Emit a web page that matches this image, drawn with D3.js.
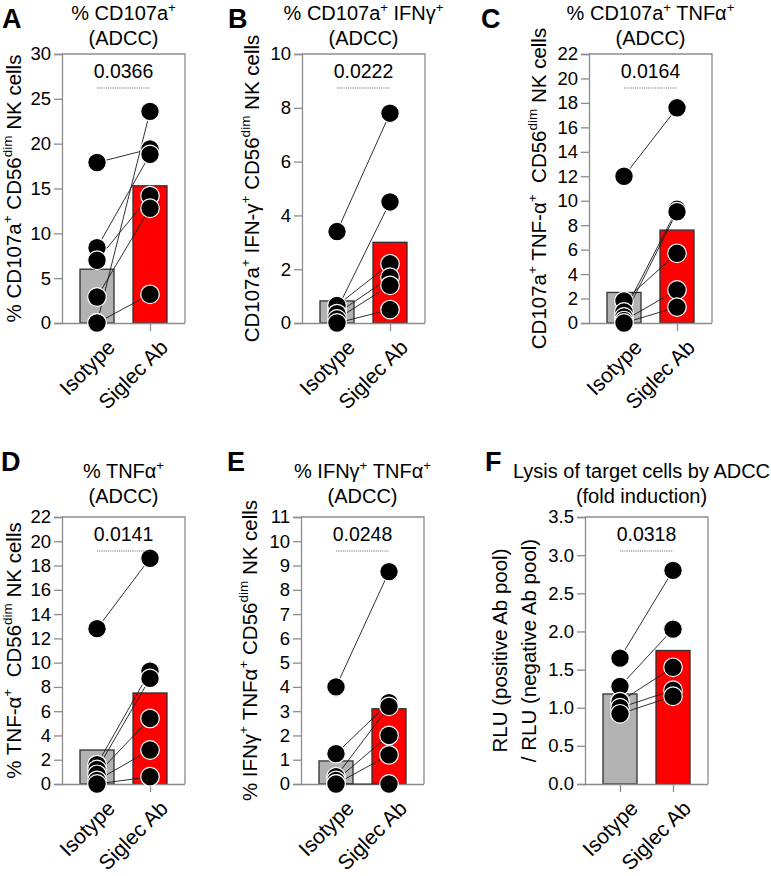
<!DOCTYPE html>
<html><head><meta charset="utf-8">
<script src="https://cdn.jsdelivr.net/npm/d3@7"></script>
<style>
body{margin:0;background:#fff;}
text{font-family:"Liberation Sans",Arial,sans-serif;fill:#000;}
</style></head>
<body>
<script>
// ---------- DATA ----------
const categories = ["Isotype", "Siglec Ab"];
const panelLetters = ["A", "B", "C", "D", "E", "F"];
const pValues = ["0.0366", "0.0222", "0.0164", "0.0141", "0.0248", "0.0318"];

const isotypeA = [17.9, 8.4, 7.0, 2.9, 0.0, 0.0];
const siglecA  = [19.4, 18.8, 14.2, 12.8, 23.6, 3.2];
const barsA    = [6.0, 15.3];

const isotypeB = [3.4, 0.5, 0.65, 0.35, 0.15, 0.0];
const siglecB  = [7.8, 4.5, 2.2, 1.7, 1.4, 0.5];
const barsB    = [0.82, 3.0];

const isotypeC = [12.0, 1.8, 0.9, 0.5, 0.2, 0.0];
const siglecC  = [17.6, 5.7, 9.3, 9.1, 2.7, 1.3];
const barsC    = [2.5, 7.6];

const isotypeD = [12.8, 1.6, 1.2, 0.8, 0.3, 0.0];
const siglecD  = [18.6, 9.3, 8.7, 5.4, 2.8, 0.6];
const barsD    = [2.8, 7.5];

const isotypeE = [4.0, 1.25, 0.3, 0.15, 0.0, 0.0];
const siglecE  = [8.75, 3.35, 3.2, 2.0, 1.2, 0.0];
const barsE    = [0.95, 3.1];

const isotypeF = [1.65, 1.28, 1.08, 1.0, 0.92];
const siglecF  = [2.8, 2.03, 1.53, 1.23, 1.15];
const barsF    = [1.18, 1.75];

const yTicksA = [0, 5, 10, 15, 20, 25, 30];
const yTicksB = [0, 2, 4, 6, 8, 10];
const yTicksC = [0, 2, 4, 6, 8, 10, 12, 14, 16, 18, 20, 22];
const yTicksD = [0, 2, 4, 6, 8, 10, 12, 14, 16, 18, 20, 22];
const yTicksE = [0, 1, 2, 3, 4, 5, 6, 7, 8, 9, 10, 11];
const yTicksF = [0, 0.5, 1.0, 1.5, 2.0, 2.5, 3.0, 3.5];

// rich text: [text, superscript?]
const titlesA = [[["% CD107a",0],["+",1]], [["(ADCC)",0]]];
const titlesB = [[["% CD107a",0],["+",1],[" IFNγ",0],["+",1]], [["(ADCC)",0]]];
const titlesC = [[["% CD107a",0],["+",1],[" TNFα",0],["+",1]], [["(ADCC)",0]]];
const titlesD = [[["% TNFα",0],["+",1]], [["(ADCC)",0]]];
const titlesE = [[["% IFNγ",0],["+",1],[" TNFα",0],["+",1]], [["(ADCC)",0]]];
const titlesF = [[["Lysis of target cells by ADCC",0]], [["(fold induction)",0]]];

const yLabelA = [[["% CD107a",0],["+",1],[" CD56",0],["dim",1],[" NK cells",0]]];
const yLabelB = [[["CD107a",0],["+",1],[" IFN-γ",0],["+",1],[" CD56",0],["dim",1],[" NK cells",0]]];
const yLabelC = [[["CD107a",0],["+",1],[" TNF-α",0],["+",1],["\u00a0 CD56",0],["dim",1],[" NK cells",0]]];
const yLabelD = [[["% TNF-α",0],["+",1],["\u00a0 CD56",0],["dim",1],[" NK cells",0]]];
const yLabelE = [[["% IFNγ",0],["+",1],[" TNFα",0],["+",1],[" CD56",0],["dim",1],[" NK cells",0]]];
const yLabelF = [[["RLU (positive Ab pool)",0]], [["/ RLU (negative Ab pool)",0]]];

// ---------- LAYOUT ----------
const W = 771, H = 876;
const svg = d3.select("body").append("svg").attr("width", W).attr("height", H);

const panels = [
  {iso: isotypeA, sig: siglecA, bars: barsA, ticks: yTicksA, max: 30, titles: titlesA, ylab: yLabelA, fmt: d3.format("d"),
   x0: 62, top: 54, bottom: 323, letter: [2, 28], titleY: 20, titleDx: 0, ylabX: [21]},
  {iso: isotypeB, sig: siglecB, bars: barsB, ticks: yTicksB, max: 10, titles: titlesB, ylab: yLabelB, fmt: d3.format("d"),
   x0: 302, top: 54, bottom: 323, letter: [228, 28], titleY: 20, titleDx: 0, ylabX: [259]},
  {iso: isotypeC, sig: siglecC, bars: barsC, ticks: yTicksC, max: 22, titles: titlesC, ylab: yLabelC, fmt: d3.format("d"),
   x0: 589, top: 54, bottom: 323, letter: [481, 28], titleY: 20, titleDx: 0, ylabX: [546]},
  {iso: isotypeD, sig: siglecD, bars: barsD, ticks: yTicksD, max: 22, titles: titlesD, ylab: yLabelD, fmt: d3.format("d"),
   x0: 62, top: 517, bottom: 784, letter: [1, 471], titleY: 478, titleDx: 0, ylabX: [21]},
  {iso: isotypeE, sig: siglecE, bars: barsE, ticks: yTicksE, max: 11, titles: titlesE, ylab: yLabelE, fmt: d3.format("d"),
   x0: 301, top: 517, bottom: 784, letter: [227, 471], titleY: 478, titleDx: 0, ylabX: [257]},
  {iso: isotypeF, sig: siglecF, bars: barsF, ticks: yTicksF, max: 3.5, titles: titlesF, ylab: yLabelF, fmt: d3.format(".1f"),
   x0: 585, top: 517, bottom: 784, letter: [485, 471], titleY: 478, titleDx: -5, ylabX: [507, 536]},
];

const PW = 123, BARW = 34, R = 9.3;
const GRID = "#8c8c8c";
const FS_TITLE = 20, FS_TICK = 18.5, FS_YLAB = 20.5, FS_XLAB = 21, FS_P = 19.5;

function rich(sel, parts, fs) {
  parts.forEach((p, i) => {
    const sup = p[1] === 1;
    const prevSup = i > 0 && parts[i-1][1] === 1;
    const t = sel.append("tspan").text(p[0]).attr("font-size", sup ? fs * 0.66 : fs);
    if (sup) t.attr("dy", -fs * 0.42);
    else if (prevSup) t.attr("dy", fs * 0.42);
  });
}

panels.forEach((p, pi) => {
  const g = svg.append("g");
  const x = d3.scalePoint().domain(categories).range([p.x0 + 35, p.x0 + 88]);
  const y = d3.scaleLinear().domain([0, p.max]).range([p.bottom, p.top]);

  // frame (top & right)
  g.append("path")
    .attr("d", `M${p.x0},${p.top}H${p.x0 + PW}V${p.bottom}`)
    .attr("fill", "none").attr("stroke", GRID).attr("stroke-width", 1.3);

  // bars
  g.selectAll(".bar").data(p.bars).join("rect")
    .attr("x", (d, i) => x(categories[i]) - BARW / 2)
    .attr("y", d => y(d))
    .attr("width", BARW)
    .attr("height", d => y(0) - y(d))
    .attr("fill", (d, i) => i === 0 ? "#b2b2b2" : "#ff0000")
    .attr("stroke", "#303030").attr("stroke-width", 1.3);

  // y axis
  const ya = g.append("g").attr("transform", `translate(${p.x0},0)`)
    .call(d3.axisLeft(y).tickValues(p.ticks).tickFormat(p.fmt).tickSize(8).tickPadding(3));
  ya.selectAll("line,path").attr("stroke", GRID).attr("stroke-width", 1.3);
  ya.selectAll("text").attr("font-size", FS_TICK).attr("font-family", "Liberation Sans, Arial, sans-serif").attr("fill", "#000");

  // x axis
  const xa = g.append("g").attr("transform", `translate(0,${p.bottom})`)
    .call(d3.axisBottom(x).tickSize(8).tickPadding(4));
  xa.select(".domain").attr("d", `M${p.x0},0.5H${p.x0 + PW}`);
  xa.selectAll("line,path").attr("stroke", GRID).attr("stroke-width", 1.3);
  xa.selectAll("text").attr("font-size", FS_XLAB).attr("font-family", "Liberation Sans, Arial, sans-serif").attr("fill", "#000")
    .attr("text-anchor", "end").attr("dy", "0.35em")
    .attr("transform", "translate(5,12) rotate(-45)");

  // connecting lines
  g.selectAll(".pair").data(p.iso).join("line")
    .attr("x1", x(categories[0])).attr("y1", d => y(d))
    .attr("x2", x(categories[1])).attr("y2", (d, i) => y(p.sig[i]))
    .attr("stroke", "#1a1a1a").attr("stroke-width", 0.9);

  // dots
  const allPts = p.iso.map(v => [categories[0], v]).concat(p.sig.map(v => [categories[1], v]));
  g.selectAll(".dot").data(allPts).join("circle")
    .attr("cx", d => x(d[0])).attr("cy", d => y(d[1])).attr("r", R)
    .attr("fill", "#000").attr("stroke", "#fff").attr("stroke-width", 1.2);

  // p-value
  const cx = (x(categories[0]) + x(categories[1])) / 2;
  g.append("text").attr("x", cx).attr("y", p.top + 24).attr("text-anchor", "middle")
    .attr("font-size", FS_P).text(pValues[pi]);
  g.append("line").attr("x1", x(categories[0])).attr("x2", x(categories[1]))
    .attr("y1", p.top + 34).attr("y2", p.top + 34)
    .attr("stroke", "#777").attr("stroke-width", 1.2).attr("stroke-dasharray", "1.2,1");

  // title
  p.titles.forEach((line, li) => {
    const t = g.append("text").attr("x", cx + p.titleDx).attr("y", p.titleY + li * 24.5)
      .attr("text-anchor", "middle");
    rich(t, line, FS_TITLE);
  });

  // y label
  const ymid = (p.top + p.bottom) / 2;
  p.ylab.forEach((line, li) => {
    const t = g.append("text").attr("text-anchor", "middle")
      .attr("transform", `translate(${p.ylabX[li]},${ymid}) rotate(-90)`);
    rich(t, line, FS_YLAB);
  });

  // panel letter
  g.append("text").attr("x", p.letter[0]).attr("y", p.letter[1])
    .attr("font-size", 27).attr("font-weight", "bold").text(panelLetters[pi]);
});
</script>
</body></html>
